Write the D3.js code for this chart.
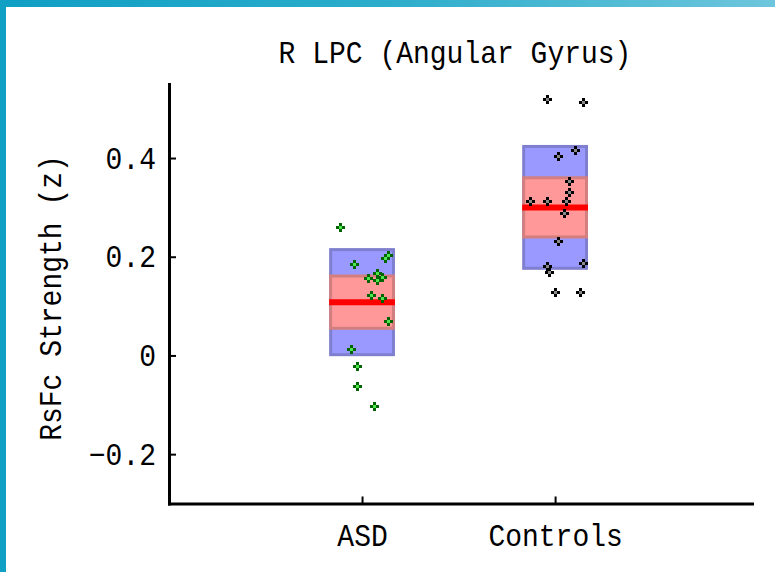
<!DOCTYPE html>
<html>
<head>
<meta charset="utf-8">
<script src="https://cdn.jsdelivr.net/npm/d3@7"></script>
<style>
  html, body { margin: 0; padding: 0; background: #fff; }
  svg { display: block; }
  text { font-family: "Liberation Mono", "DejaVu Sans Mono", monospace; fill: #000; }
</style>
</head>
<body>
<div id="chart"></div>
<script>
// Group labels and tick labels
const categories = ["ASD", "Controls"];
const yTicks = [-0.2, 0, 0.2, 0.4];
const yTickLabels = ["\u22120.2", "0", "0.2", "0.4"];

// Individual subject values (z) and horizontal jitter for each group
const asdValues = [0.2605, 0.186, 0.2045, 0.1976, 0.168, 0.157, 0.152, 0.158, 0.1225, 0.117, 0.0706, 0.0138, -0.0207, -0.0613, -0.1018];
const asdJitter = [-0.114, -0.042, 0.136, 0.118, 0.075, 0.031, 0.077, 0.103, 0.046, 0.105, 0.134, -0.057, -0.026, -0.026, 0.062];
const controlValues = [0.5196, 0.5135, 0.4167, 0.4045, 0.3532, 0.3303, 0.312, 0.312, 0.3132, 0.2889, 0.2321, 0.1814, 0.170, 0.1875, 0.1286, 0.1286];
const controlJitter = [-0.042, 0.146, 0.101, 0.013, 0.073, 0.073, -0.132, -0.042, 0.058, 0.044, 0.013, -0.042, -0.030, 0.146, 0.001, 0.130];

// Group summaries: mean, one standard deviation, 95% confidence interval
const groupMean = [0.108, 0.300];
const groupSD = [0.1095, 0.1265];
const groupCI = [0.056, 0.063];

const W = 775, H = 572;
const boxWidth = 0.341;
const fontSize = 28;
const stretch = 1.12;   // tall, narrow lettering

const svg = d3.select("#chart").append("svg")
  .attr("width", W).attr("height", H);

// Frame: gradient strip on top, solid strip on the left
const defs = svg.append("defs");
const grad = defs.append("linearGradient").attr("id", "frameGrad")
  .attr("x1", "0%").attr("x2", "100%").attr("y1", "0%").attr("y2", "0%");
grad.append("stop").attr("offset", "0%").attr("stop-color", "#0f9fc4");
grad.append("stop").attr("offset", "50%").attr("stop-color", "#2cadcb");
grad.append("stop").attr("offset", "100%").attr("stop-color", "#6dc6dc");
svg.append("rect").attr("x", 0).attr("y", 0).attr("width", W).attr("height", 7).attr("fill", "url(#frameGrad)");
svg.append("rect").attr("x", 0).attr("y", 0).attr("width", 6).attr("height", H).attr("fill", "#10a0c4");

const x = d3.scaleLinear().domain([0, 3.02]).range([169, 752]);
const y = d3.scaleLinear().domain([-0.3, 0.55]).range([503.5, 84]);

// Boxes: SD (blue) behind CI (pink), with the mean as a red bar
const groups = categories.map((c, i) => ({
  name: c, pos: i + 1, mean: groupMean[i], sd: groupSD[i], ci: groupCI[i]
}));

const plot = svg.append("g");

plot.selectAll("rect.sd").data(groups).join("rect")
  .attr("class", "sd")
  .attr("x", d => x(d.pos - boxWidth / 2) + 1.5)
  .attr("width", d => x(d.pos + boxWidth / 2) - x(d.pos - boxWidth / 2) - 3)
  .attr("y", d => y(d.mean + d.sd) + 1.5)
  .attr("height", d => y(d.mean - d.sd) - y(d.mean + d.sd) - 3)
  .attr("fill", "#9999ff")
  .attr("stroke", "#7f7fd0")
  .attr("stroke-width", 3);

plot.selectAll("rect.ci").data(groups).join("rect")
  .attr("class", "ci")
  .attr("x", d => x(d.pos - boxWidth / 2) + 1.5)
  .attr("width", d => x(d.pos + boxWidth / 2) - x(d.pos - boxWidth / 2) - 3)
  .attr("y", d => y(d.mean + d.ci) + 1.5)
  .attr("height", d => y(d.mean - d.ci) - y(d.mean + d.ci) - 3)
  .attr("fill", "#ff9999")
  .attr("stroke", "#d47f7f")
  .attr("stroke-width", 3);

plot.selectAll("line.mean").data(groups).join("line")
  .attr("class", "mean")
  .attr("x1", d => x(d.pos - boxWidth / 2))
  .attr("x2", d => x(d.pos + boxWidth / 2))
  .attr("y1", d => y(d.mean))
  .attr("y2", d => y(d.mean))
  .attr("stroke", "#ff0000")
  .attr("stroke-width", 6);

// Subject markers: small plus with a light centre
function drawMarkers(values, jitter, pos, dark, light) {
  const pts = values.map((v, i) => ({ cx: Math.round(x(pos + jitter[i])), cy: Math.round(y(v)) }));
  const g = plot.append("g").attr("shape-rendering", "crispEdges");
  const m = g.selectAll("g").data(pts).join("g")
    .attr("transform", d => `translate(${d.cx},${d.cy})`);
  m.append("path")
    .attr("d", "M-1.5,-4.5H1.5V-1.5H4.5V1.5H1.5V4.5H-1.5V1.5H-4.5V-1.5H-1.5Z")
    .attr("fill", dark);
  m.append("rect")
    .attr("x", -1.5).attr("y", -1.5).attr("width", 3).attr("height", 3)
    .attr("fill", light);
}
drawMarkers(asdValues, asdJitter, 1, "#006400", "#4ee84e");
drawMarkers(controlValues, controlJitter, 2, "#000000", "#8a8a8a");

// Axes with inward ticks
const yAxis = svg.append("g")
  .attr("transform", "translate(169,0)")
  .call(d3.axisLeft(y).tickValues(yTicks).tickFormat((d, i) => yTickLabels[i])
    .tickSizeInner(-7).tickSizeOuter(0).tickPadding(13));
yAxis.select(".domain").attr("stroke-width", 3).attr("stroke-linecap", "square");
yAxis.selectAll(".tick line").attr("stroke-width", 2);
yAxis.selectAll(".tick text").attr("font-size", fontSize).attr("font-family", null)
  .attr("transform", `scale(1,${stretch})`);

const xAxis = svg.append("g")
  .attr("transform", "translate(0,503.5)")
  .call(d3.axisBottom(x).tickValues([1, 2]).tickFormat((d, i) => categories[i])
    .tickSizeInner(-7).tickSizeOuter(0));
xAxis.select(".domain").attr("stroke-width", 3).attr("stroke-linecap", "square");
xAxis.selectAll(".tick line").attr("stroke-width", 2);
xAxis.selectAll(".tick text").attr("font-size", fontSize).attr("font-family", null)
  .attr("y", 42.5 / stretch).attr("dy", 0)
  .attr("transform", `scale(1,${stretch})`);

// Title and y-axis label
svg.append("text")
  .attr("transform", `translate(455,63) scale(1,${stretch})`)
  .attr("text-anchor", "middle")
  .attr("font-size", fontSize)
  .text("R LPC (Angular Gyrus)");

svg.append("text")
  .attr("transform", `translate(61,298) rotate(-90) scale(1,${stretch})`)
  .attr("text-anchor", "middle")
  .attr("font-size", fontSize)
  .text("RsFc Strength (z)");
</script>
</body>
</html>
